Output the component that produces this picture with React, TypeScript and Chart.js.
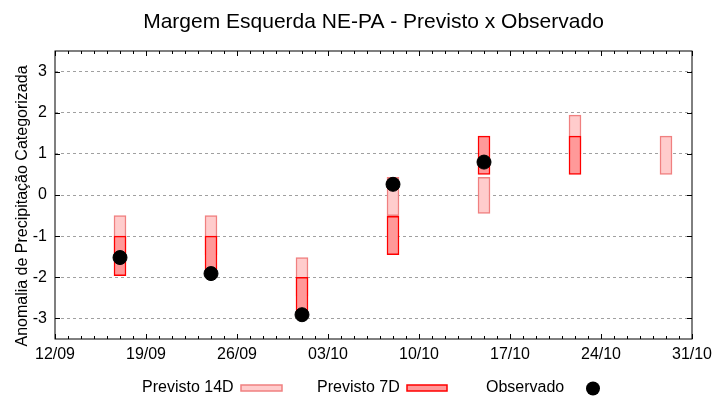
import React, { useEffect, useRef } from "react";
import { Chart, registerables } from "chart.js";

Chart.register(...registerables);

// ---- data ----
const startDate = "12/09";
const weekTickLabels = ["12/09", "19/09", "26/09", "03/10", "10/10", "17/10", "24/10", "31/10"];
const categories = ["17/09", "24/09", "01/10", "08/10", "15/10", "22/10", "29/10"];
const prev14Low = [-1.45, -1.45, -2.45, -0.5, -0.45, 1.0, 0.5];
const prev14High = [-0.5, -0.5, -1.52, 0.43, 0.43, 1.94, 1.43];
const prev7Low: (number | null)[] = [-1.96, -1.95, -2.95, -1.45, 0.5, 0.5, null];
const prev7High: (number | null)[] = [-1.0, -1.0, -2.0, -0.52, 1.43, 1.43, null];
const observed: (number | null)[] = [-1.52, -1.91, -2.91, 0.26, 0.8, null, null];
const yTicks = [-3, -2, -1, 0, 1, 2, 3];

const FONT = "'Liberation Sans', Arial, sans-serif";
const C14_FILL = "#ffcccc";
const C14_LINE = "#f08080";
const C7_FILL = "#ff9999";
const C7_LINE = "#ff0000";

const MS_DAY = 86400000;
function toDate(s: string): Date {
  const [d, m] = s.split("/").map(Number);
  return new Date(Date.UTC(2000, m - 1, d));
}
const base = toDate(startDate).getTime();
function dayOffset(s: string): number {
  return Math.round((toDate(s).getTime() - base) / MS_DAY);
}
function fmt(v: number): string {
  const d = new Date(base + v * MS_DAY);
  const dd = String(d.getUTCDate()).padStart(2, "0");
  const mm = String(d.getUTCMonth() + 1).padStart(2, "0");
  return `${dd}/${mm}`;
}
const xTickValues = weekTickLabels.map(dayOffset);
const xMax = xTickValues[xTickValues.length - 1];

const decorPlugin = {
  id: "decor",
  afterDraw(chart: any) {
    const ctx = chart.ctx as CanvasRenderingContext2D;
    const { left, right, top, bottom } = chart.chartArea;
    const xs = chart.scales.x;
    const ys = chart.scales.y;
    ctx.save();
    // border
    ctx.strokeStyle = "#000";
    ctx.lineWidth = 1;
    ctx.strokeRect(left, top, right - left, bottom - top);
    // x ticks (inward, mirrored)
    ctx.beginPath();
    for (let v = 0; v <= xMax; v++) {
      const px = Math.round(xs.getPixelForValue(v)) + 0.5;
      const len = v % 7 === 0 ? 5 : 3;
      ctx.moveTo(px, bottom);
      ctx.lineTo(px, bottom - len);
      ctx.moveTo(px, top);
      ctx.lineTo(px, top + len);
    }
    for (const v of yTicks) {
      const py = Math.round(ys.getPixelForValue(v)) + 0.5;
      ctx.moveTo(left, py);
      ctx.lineTo(left + 5, py);
      ctx.moveTo(right, py);
      ctx.lineTo(right - 5, py);
    }
    ctx.stroke();

    // title
    ctx.fillStyle = "#000";
    ctx.font = `21px ${FONT}`;
    ctx.textAlign = "center";
    ctx.textBaseline = "alphabetic";
    ctx.fillText("Margem Esquerda NE-PA - Previsto x Observado", (left + right) / 2, 28);

    // y title
    ctx.save();
    ctx.font = `16px ${FONT}`;
    ctx.translate(27, 206);
    ctx.rotate(-Math.PI / 2);
    ctx.textAlign = "center";
    ctx.fillText("Anomalia de Precipitação Categorizada", 0, 0);
    ctx.restore();

    // legend
    ctx.font = `16px ${FONT}`;
    ctx.textAlign = "left";
    ctx.fillText("Previsto 14D", 142, 392);
    ctx.fillStyle = C14_FILL;
    ctx.fillRect(241, 385, 41, 6);
    ctx.strokeStyle = C14_LINE;
    ctx.lineWidth = 1.5;
    ctx.strokeRect(241, 385, 41, 6);
    ctx.fillStyle = "#000";
    ctx.fillText("Previsto 7D", 317, 392);
    ctx.fillStyle = C7_FILL;
    ctx.fillRect(407, 385, 40, 6);
    ctx.strokeStyle = C7_LINE;
    ctx.strokeRect(407, 385, 40, 6);
    ctx.fillStyle = "#000";
    ctx.fillText("Observado", 486, 392);
    ctx.beginPath();
    ctx.arc(593, 388.5, 7, 0, Math.PI * 2);
    ctx.fill();
    ctx.restore();
  },
};

export default function App() {
  const ref = useRef<HTMLCanvasElement | null>(null);
  useEffect(() => {
    if (!ref.current) return;
    const xs = categories.map(dayOffset);
    const chart = new Chart(ref.current, {
      type: "bar",
      data: {
        datasets: [
          {
            type: "line",
            label: "Observado",
            data: xs.map((x, i) => ({ x, y: observed[i] })) as any,
            showLine: false,
            pointRadius: 7,
            pointHoverRadius: 7,
            pointBackgroundColor: "#000",
            pointBorderColor: "#000",
            borderColor: "#000",
            backgroundColor: "#000",
            order: 0,
          } as any,
          {
            label: "Previsto 7D",
            data: xs.map((x, i) => ({ x, y: prev7Low[i] === null ? null : [prev7Low[i], prev7High[i]] })) as any,
            backgroundColor: C7_FILL,
            borderColor: C7_LINE,
            borderWidth: 1.5,
            borderSkipped: false,
            barThickness: 12,
            grouped: false,
            order: 1,
          },
          {
            label: "Previsto 14D",
            data: xs.map((x, i) => ({ x, y: [prev14Low[i], prev14High[i]] })) as any,
            backgroundColor: C14_FILL,
            borderColor: C14_LINE,
            borderWidth: 1.5,
            borderSkipped: false,
            barThickness: 12,
            grouped: false,
            order: 2,
          },
        ],
      },
      options: {
        animation: false,
        responsive: false,
        layout: { padding: { top: 51, right: 28, left: 0, bottom: 0 } },
        plugins: { legend: { display: false }, title: { display: false }, tooltip: { enabled: false } },
        scales: {
          x: {
            type: "linear",
            offset: false,
            min: 0,
            max: xMax,
            grid: { display: false, drawTicks: false, offset: false },
            border: { display: false },
            afterBuildTicks: (s: any) => {
              s.ticks = xTickValues.map((v) => ({ value: v }));
            },
            afterFit: (s: any) => {
              s.height = 61;
            },
            ticks: {
              autoSkip: false,
              maxRotation: 0,
              padding: 6,
              color: "#000",
              font: { family: FONT, size: 16 },
              callback: (v: any) => fmt(Number(v)),
            },
          },
          y: {
            type: "linear",
            min: -3.5,
            max: 3.5,
            grid: { color: "#a0a0a0", lineWidth: 1, drawTicks: false },
            border: { display: false, dash: [3, 3] },
            afterBuildTicks: (s: any) => {
              s.ticks = yTicks.map((v) => ({ value: v }));
            },
            afterFit: (s: any) => {
              s.width = 55;
            },
            ticks: {
              padding: 8,
              color: "#000",
              font: { family: FONT, size: 16 },
              callback: (v: any) => String(v),
            },
          },
        },
      },
      plugins: [decorPlugin],
    });
    return () => chart.destroy();
  }, []);
  return (
    <div style={{ position: "absolute", left: 0, top: 0, width: 720, height: 400, background: "#fff" }}>
      <canvas ref={ref} width={720} height={400} style={{ width: 720, height: 400 }} />
    </div>
  );
}
